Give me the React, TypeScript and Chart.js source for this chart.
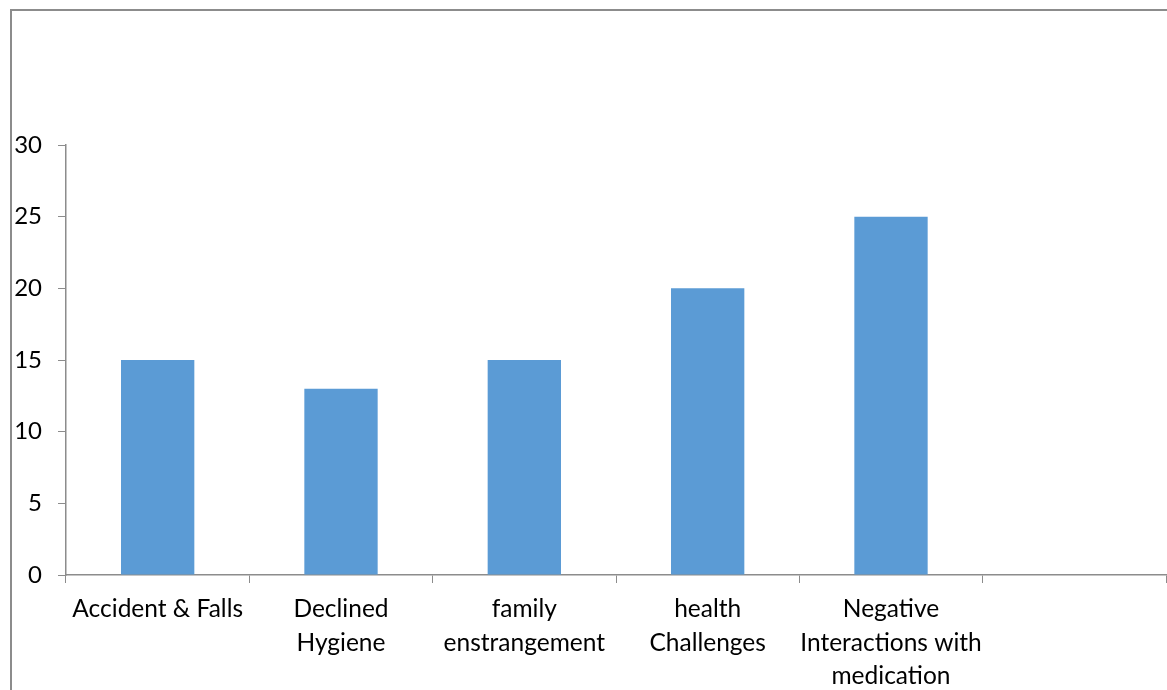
import React, { useEffect, useRef } from "react";
import { Chart, registerables } from "chart.js";

Chart.register(...registerables);

const categories: (string | string[])[] = [
  ["Accident & Falls"],
  ["Declined", "Hygiene"],
  ["family", "enstrangement"],
  ["health", "Challenges"],
  ["Negative", "Interactions with", "medication"],
  "",
];
const values: (number | null)[] = [15, 13, 15, 20, 25, null];
const yTicks = [0, 5, 10, 15, 20, 25, 30];

const FONT = "Lato";
const AXIS_COLOR = "#8c8c8c";

export default function App() {
  const ref = useRef<HTMLCanvasElement | null>(null);
  useEffect(() => {
    document.body.style.margin = "0";
    const ctx = ref.current!;
    const chart = new Chart(ctx, {
      type: "bar",
      data: {
        labels: categories,
        datasets: [
          {
            data: values,
            backgroundColor: "#5B9BD5",
            barPercentage: 0.4,
            categoryPercentage: 1,
          },
        ],
      },
      options: {
        animation: false,
        responsive: false,
        devicePixelRatio: 1,
        layout: { padding: { top: 145, right: 1, left: 0, bottom: 0 } },
        plugins: { legend: { display: false }, tooltip: { enabled: false } },
        scales: {
          x: {
            grid: {
              offset: true,
              drawOnChartArea: false,
              drawTicks: true,
              tickLength: 8,
              color: AXIS_COLOR,
            },
            border: { color: AXIS_COLOR, width: 1.5 },
            ticks: {
              color: "#000",
              maxRotation: 0,
              autoSkip: false,
              padding: 10,
              font: { family: FONT, size: 24.5, lineHeight: 1.35 },
            },
            afterFit: (s: any) => {
              s.height = 115;
            },
          },
          y: {
            min: 0,
            max: 30,
            afterBuildTicks: (s: any) => {
              s.ticks = yTicks.map((v) => ({ value: v }));
            },
            grid: {
              drawOnChartArea: false,
              drawTicks: true,
              tickLength: 8,
              color: AXIS_COLOR,
            },
            border: { color: AXIS_COLOR, width: 1.5 },
            ticks: {
              color: "#000",
              padding: 16,
              font: { family: FONT, size: 24 },
            },
            afterFit: (s: any) => {
              s.width = 66;
            },
          },
        },
      },
    });
    return () => chart.destroy();
  }, []);
  return (
    <div style={{ position: "relative", width: 1167, height: 690, overflow: "hidden" }}>
      <div
        style={{
          position: "absolute",
          left: 10,
          top: 9,
          width: 1200,
          height: 700,
          borderLeft: "2px solid #8c8c8c",
          borderTop: "2px solid #8c8c8c",
        }}
      />
      <canvas ref={ref} width={1167} height={690} style={{ position: "absolute", left: 0, top: 0 }} />
    </div>
  );
}
